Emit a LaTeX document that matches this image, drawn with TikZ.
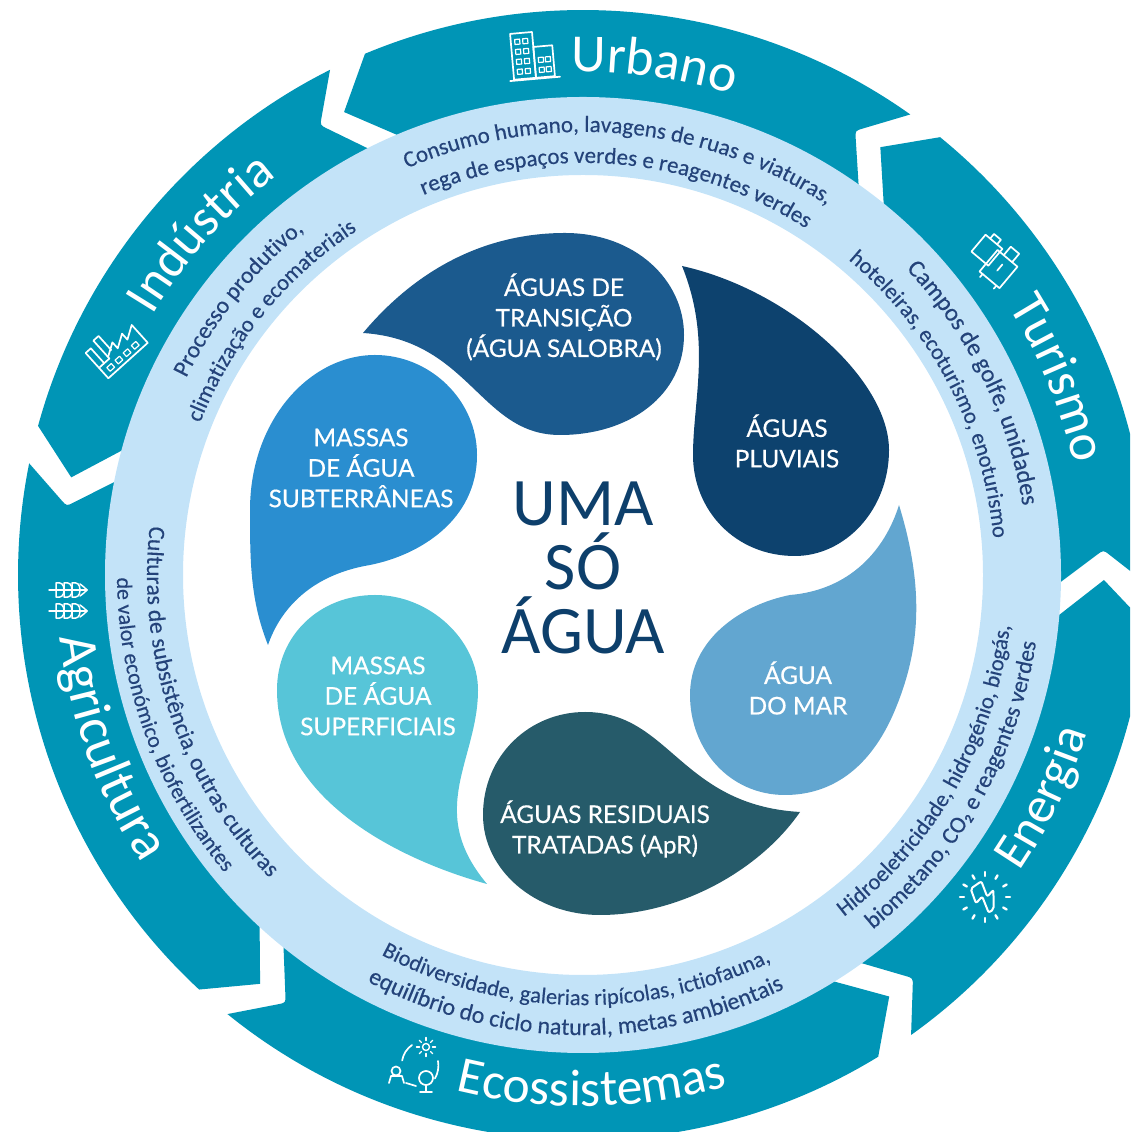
\documentclass[tikz,border=0pt]{standalone}
\usepackage{fontspec}
\setmainfont{Carlito}
\newfontfamily\ringface[FakeBold=0.35]{Carlito}
\newfontfamily\dropface[FakeBold=0.45]{Lato}
\usetikzlibrary{decorations.text,calc}
\definecolor{segteal}{HTML}{0095B6}
\definecolor{ringblue}{HTML}{C3E3F8}
\definecolor{ringink}{HTML}{24437A}
\definecolor{dropa}{HTML}{1B5A8E}
\definecolor{dropb}{HTML}{0D426E}
\definecolor{dropc}{HTML}{62A6D0}
\definecolor{dropd}{HTML}{265B6A}
\definecolor{drope}{HTML}{57C5D8}
\definecolor{dropf}{HTML}{2A8ED0}
\definecolor{centerink}{HTML}{0D3F6B}
\newcommand{\ringat}[1]{\ringface\fontsize{#1}{#1}\selectfont\color{ringink}}
\newcommand{\segat}[1]{\fontsize{#1}{#1}\selectfont\color{white}}
% head angle, tip angle, tail angle, notch angle
\newcommand{\arrowseg}[4]{%
  \coordinate (so) at (#3:565);
  \coordinate (si) at (#3:476);
  \coordinate (sn) at (#4:521);
  \fill[segteal] (#1:565) arc[start angle=#1,end angle=#3,radius=565]
    -- ($(sn)!8pt!(so)$) .. controls (sn) .. ($(sn)!8pt!(si)$)
    -- (si) arc[start angle=#3,end angle=#1,radius=476] -- (#2:521) -- cycle;
}
% clockwise text (tops outward): radius, centre angle, text, font
\newcommand{\cwtext}[4]{%
  \path[decorate,decoration={text along path,text align=center,text={|#4|#3}}]
    (#2+70:#1) arc[start angle=#2+70,end angle=#2-70,radius=#1];
}
% counterclockwise text (tops inward)
\newcommand{\ccwtext}[4]{%
  \path[decorate,decoration={text along path,text align=center,text={|#4|#3}}]
    (#2-70:#1) arc[start angle=#2-70,end angle=#2+70,radius=#1];
}
\tikzset{
  droplabel/.style={text=white,font=\dropface\fontsize{24.4}{30.5}\selectfont,align=center,inner sep=0pt},
  centerlabel/.style={text=centerink,font=\fontsize{68}{64}\selectfont,align=center,inner sep=0pt},
  iconline/.style={draw=white,line width=1.7pt,line join=round,line cap=round}
}
\begin{document}
\begin{tikzpicture}[x=1pt,y=1pt]
\useasboundingbox (0,0) rectangle (1130,1132);
\clip (0,0) rectangle (1130,1132);
\begin{scope}[shift={(583,557)}]
  \arrowseg{112.7}{117.3}{54.6}{58.5}
  \arrowseg{50.8}{55.2}{-1}{2.75}
  \arrowseg{-5}{-0.55}{-54.5}{-50.7}
  \arrowseg{-58.5}{-54}{-129}{-124.8}
  \arrowseg{227.2}{231.7}{168.6}{172.4}
  \arrowseg{164.7}{169.2}{116.6}{120.3}
  \fill[ringblue,even odd rule] (0,0) circle[radius=478] (0,0) circle[radius=400];
  % ring texts
  \cwtext{443}{85}{Consumo humano, lavagens de ruas e viaturas,}{\ringat{23}}
  \cwtext{412}{85}{rega de espaços verdes e reagentes verdes}{\ringat{23}}
  \cwtext{445}{26.2}{Campos de golfe, unidades}{\ringat{24.5}}
  \cwtext{412}{27.5}{hoteleiras, ecoturismo, enoturismo}{\ringat{22.5}}
  \ccwtext{430}{-29.7}{Hidroeletricidade, hidrogénio, biogás,}{\ringat{22.5}}
  \ccwtext{458}{-29.6}{biometano, CO₂ e reagentes verdes}{\ringat{23.5}}
  \ccwtext{430}{-91}{Biodiversidade, galerias ripícolas, ictiofauna,}{\ringat{22.5}}
  \ccwtext{460}{-91}{equilíbrio do ciclo natural, metas ambientais}{\ringat{24}}
  \ccwtext{436}{198.8}{Culturas de subsistência, outras culturas}{\ringat{23.5}}
  \ccwtext{466}{200}{de valor económico, biofertilizantes}{\ringat{22}}
  \cwtext{443}{141.3}{Processo produtivo,}{\ringat{23.5}}
  \cwtext{412}{140.8}{climatização e ecomateriais}{\ringat{22.5}}
  % sector titles
  \cwtext{503}{82}{Urbano}{\segat{53.5}}
  \cwtext{503}{22.5}{Turismo}{\segat{52}}
  \ccwtext{528}{-25.8}{Energia}{\segat{51}}
  \ccwtext{531}{-89}{Ecossistemas}{\segat{51.5}}
  \ccwtext{527}{200}{Agricultura}{\segat{54}}
  \cwtext{503}{138.2}{Indústria}{\segat{52}}
\end{scope}
% icons
\begin{scope}[shift={(533,1077)},rotate=5,iconline]
  \draw (-21,-23) rectangle (1,23);
  \draw (1,-23) rectangle (20,8);
  \draw (-25,-24) -- (25,-24);
  \foreach \x in {-17,-9} \foreach \y in {-18,-8,2,12} \draw[line width=1.2pt] (\x,\y) rectangle ++(5,5);
  \foreach \x in {5,12} \foreach \y in {-18,-8} \draw[line width=1.2pt] (\x,\y) rectangle ++(5,5);
\end{scope}
\begin{scope}[shift={(997,872)},rotate=-40,iconline]
  \draw (-25,-10) rectangle (-3,12);
  \draw (-19,12) -- (-19,18) -- (-10,18) -- (-10,12);
  \draw (-6,-20) rectangle (20,8);
  \draw (2,8) -- (2,19) -- (13,19) -- (13,8);
  \draw (-2,-24) -- (-2,-20) (16,-24) -- (16,-20);
  \draw (7,0) -- (7,-8);
\end{scope}
\begin{scope}[shift={(985,235)},iconline]
  \foreach \a in {0,30,...,330} \draw[line width=2.4pt] (\a:21) -- (\a:25);
  \draw[rotate=35,line width=2pt,rounded corners=2pt] (-7,15) -- (-11,0) -- (-2,2) -- (-6,-15) -- (0,-15) -- (11,1) -- (2,-1) -- (6,15) -- cycle;
\end{scope}
\begin{scope}[shift={(414,67)},iconline]
  \draw[line width=1.4pt] (12,18) circle[radius=3.5];
  \foreach \a in {0,45,...,315} \draw[line width=1.4pt] ([shift={(12,18)}]\a:6.5) -- ([shift={(12,18)}]\a:9.5);
  \draw (-2,20) arc[start angle=125,end angle=170,radius=24];
  \draw (24,4) arc[start angle=10,end angle=-30,radius=26];
  \draw (-8,-18) -- (2,-21);
  \draw (-18,-6) circle[radius=4.5] (-25,-18) -- (-23,-11) -- (-12,-11) -- (-10,-18);
  \draw (12,-13) circle[radius=7] (12,-20) -- (12,-27) (6,-27) -- (18,-27);
\end{scope}
\foreach \yy in {542,521}{
\begin{scope}[shift={(68,\yy)},iconline,line width=1.5pt]
  \draw (-19,0) -- (19,0);
  \foreach \x in {-12,-4,4} {
    \draw (\x,0) -- (\x,7) .. controls (\x+5,8) and (\x+8,6) .. (\x+8,0);
    \draw (\x,0) -- (\x,-7) .. controls (\x+5,-8) and (\x+8,-6) .. (\x+8,0);
  }
  \draw (12,6) .. controls (15,4) and (17,2) .. (19,0) .. controls (17,-2) and (15,-4) .. (12,-6);
\end{scope}}
\begin{scope}[shift={(117,783)},rotate=42,iconline]
  \draw (-26,-16) -- (27,-16) -- (27,8) -- (14,0) -- (14,8) -- (1,0) -- (1,8) -- (-12,0) -- (-12,-2) -- (-26,-2) -- cycle;
  \draw (-26,-2) -- (-26,18) -- (-19,18) -- (-19,-2);
  \draw (-12,0) -- (-12,22) -- (-5,22) -- (-5,3);
  \foreach \x in {-20,-9,2,13} \draw[line width=1.2pt] (\x,-12) rectangle ++(6,5);
\end{scope}
% drops, in reference pixels
\begin{scope}[shift={(0,1132)},y=-1pt]
  \fill[dropa] (363,333) .. controls (420,265) and (490,233) .. (565,233)
     .. controls (635,233) and (684,280) .. (684,335)
     .. controls (684,395) and (630,435) .. (560,435)
     .. controls (480,435) and (470,340) .. (363,333) -- cycle;
  \fill[dropb] (682,266) .. controls (790,290) and (889,380) .. (889,450)
     .. controls (889,510) and (845,556) .. (795,556)
     .. controls (735,556) and (693,510) .. (693,455)
     .. controls (693,400) and (712,340) .. (682,266) -- cycle;
  \fill[dropc] (899,505) .. controls (925,590) and (920,650) .. (895,710)
     .. controls (870,770) and (830,795) .. (785,795)
     .. controls (730,795) and (690,750) .. (690,695)
     .. controls (690,640) and (740,605) .. (790,595)
     .. controls (850,590) and (885,550) .. (899,505) -- cycle;
  \fill[dropd] (800,812) .. controls (760,870) and (680,915) .. (600,915)
     .. controls (535,915) and (483,870) .. (483,815)
     .. controls (483,755) and (530,712) .. (585,712)
     .. controls (670,712) and (680,805) .. (800,812) -- cycle;
  \fill[drope] (487,884) .. controls (400,860) and (277,800) .. (277,690)
     .. controls (277,635) and (320,595) .. (375,595)
     .. controls (430,595) and (478,640) .. (478,690)
     .. controls (478,760) and (425,810) .. (487,884) -- cycle;
  \fill[dropf] (268,645) .. controls (250,600) and (250,560) .. (250,510)
     .. controls (250,420) and (310,355) .. (375,355)
     .. controls (430,355) and (477,400) .. (477,455)
     .. controls (477,520) and (420,555) .. (370,565)
     .. controls (310,575) and (280,610) .. (268,645) -- cycle;
  \node[droplabel] (transicao) at (564,317) {ÁGUAS DE\\TRANSIÇÃO\\(ÁGUA SALOBRA)};
  \node[droplabel] (pluviais) at (787,441) {ÁGUAS\\PLUVIAIS};
  \node[droplabel] (mar) at (798,688) {ÁGUA\\DO MAR};
  \node[droplabel] (residuais) at (605,829) {ÁGUAS RESIDUAIS\\TRATADAS (ApR)};
  \node[droplabel] (superficiais) at (378,696) {MASSAS\\DE ÁGUA\\SUPERFICIAIS};
  \node[droplabel] (subterraneas) at (361,468) {MASSAS\\DE ÁGUA\\SUBTERRÂNEAS};
  \node[centerlabel] (uma) at (583,568) {UMA\\SÓ\\ÁGUA};
\end{scope}
\end{tikzpicture}
\end{document}
